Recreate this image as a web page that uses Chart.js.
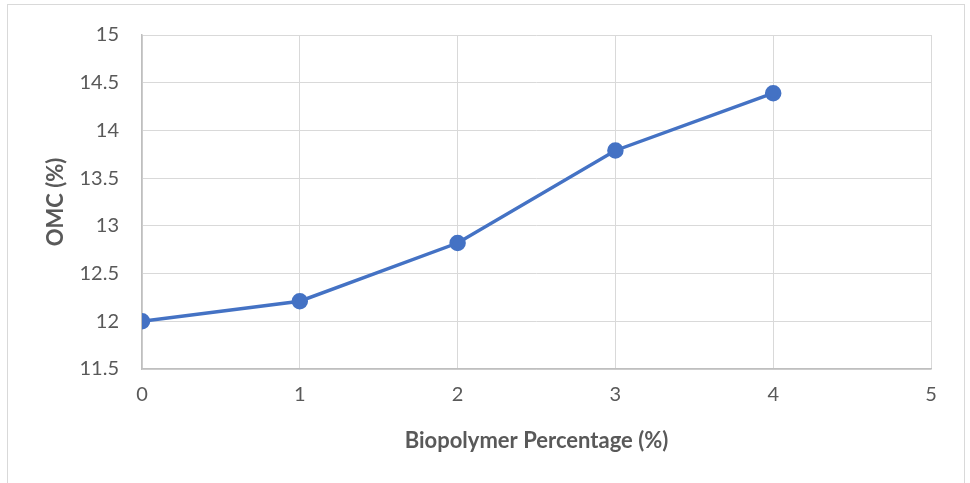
<!DOCTYPE html>
<html>
<head>
<meta charset="utf-8">
<script src="https://cdn.jsdelivr.net/npm/chart.js@4"></script>
<style>
  html, body { margin: 0; padding: 0; background: #fff; }
  #wrap { position: relative; width: 970px; height: 483px; overflow: hidden; }
  #frame { position: absolute; left: 7px; top: 4px; width: 958px; height: 500px; border: 1px solid #d9d9d9; box-sizing: border-box; }
  canvas { position: absolute; left: 0; top: 0; }
</style>
</head>
<body>
<div id="wrap">
  <div id="frame"></div>
  <canvas id="chart" width="970" height="483"></canvas>
</div>
<script>
const biopolymer = [0, 1, 2, 3, 4];
const omc = [12.0, 12.21, 12.82, 13.79, 14.39];
const xTicks = [0, 1, 2, 3, 4, 5];
const yTicks = [11.5, 12, 12.5, 13, 13.5, 14, 14.5, 15];

const points = biopolymer.map((x, i) => ({ x, y: omc[i] }));
const tickFont = { family: "Lato", size: 20 };
const titleFont = { family: "Lato", size: 22, weight: "bold" };

const ctx = document.getElementById("chart").getContext("2d");
const chart = new Chart(ctx, {
  type: "scatter",
  data: {
    datasets: [{
      data: points,
      showLine: true,
      borderColor: "#4472c4",
      backgroundColor: "#4472c4",
      borderWidth: 3.5,
      pointRadius: 6.5,
      pointHoverRadius: 6.5
    }]
  },
  options: {
    responsive: false,
    animation: false,
    layout: { padding: { left: 40, top: 33, right: 39, bottom: 26 } },
    plugins: { legend: { display: false }, tooltip: { enabled: false } },
    scales: {
      x: {
        type: "linear",
        min: xTicks[0],
        max: xTicks[xTicks.length - 1],
        afterBuildTicks: s => { s.ticks = xTicks.map(v => ({ value: v })); },
        afterFit: s => { s.height = 88; },
        grid: { color: "#d9d9d9", lineWidth: 1, drawTicks: false },
        border: { color: "#bfbfbf", width: 1.5 },
        ticks: { font: tickFont, color: "#595959", padding: 14, callback: v => String(v) },
        title: { display: true, text: "Biopolymer Percentage (%)", font: titleFont, color: "#595959", padding: 3 }
      },
      y: {
        min: yTicks[0],
        max: yTicks[yTicks.length - 1],
        afterBuildTicks: s => { s.ticks = yTicks.map(v => ({ value: v })); },
        afterFit: s => { s.width = 102; },
        grid: { color: "#d9d9d9", lineWidth: 1, drawTicks: false },
        border: { color: "#bfbfbf", width: 1.5 },
        ticks: { font: tickFont, color: "#595959", padding: 23, callback: v => String(v) },
        title: { display: true, text: "OMC (%)", font: titleFont, color: "#595959", padding: 3 }
      }
    }
  }
});
</script>
</body>
</html>
